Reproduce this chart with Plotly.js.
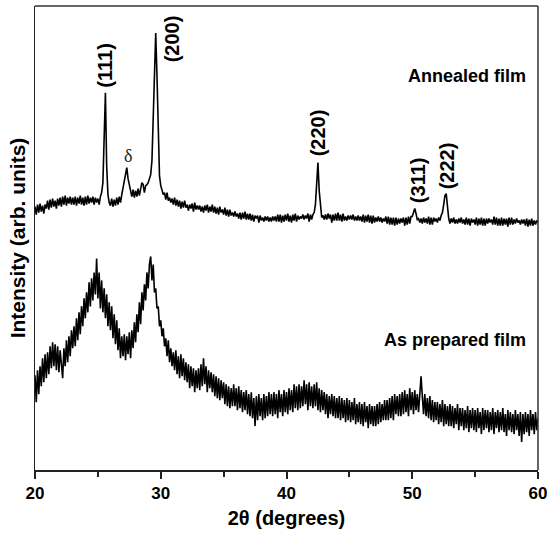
<!DOCTYPE html>
<html>
<head>
<meta charset="utf-8">
<script src="https://cdn.plot.ly/plotly-3.0.1.min.js"></script>
<style>html,body{margin:0;padding:0;background:#fff;}#chart{width:547px;height:533px;}</style>
</head>
<body>
<div id="chart"></div>
<script>
// 2-theta sampling (degrees)
const startAngle = 20;
const stepAngle = 0.1;

// Annealed film intensity (arb. units), 20.0 .. 60.0 step 0.1
const annealedIntensity = [
264,256,266,258,267,259,265,257,266,262,
270,261,271,263,272,264,270,262,272,265,
273,264,274,266,275,265,273,267,274,266,
273,266,274,265,273,267,275,266,273,265,
274,266,275,267,273,268,274,266,273,268,
272,266,274,278,288,340,378,305,276,268,
265,272,264,271,265,273,266,274,268,276,
282,288,294,303,292,284,280,274,281,273,
280,274,282,275,284,288,286,278,285,286,
288,292,296,310,350,405,438,395,330,295,
285,280,276,278,271,278,270,273,268,272,
266,273,265,271,264,270,262,269,263,270,
263,266,260,266,262,267,259,268,261,265,
261,265,259,264,258,265,260,266,258,264,
259,266,258,264,257,263,256,264,258,261,
256,263,255,261,254,261,255,258,254,259,
254,257,252,258,251,258,252,259,251,257,
251,257,250,256,249,255,252,255,248,255,
250,253,249,254,250,254,249,253,249,254,
250,254,249,256,249,256,248,255,249,256,
250,257,249,255,248,256,250,257,249,255,
251,254,252,256,251,255,252,257,249,256,
251,256,258,266,290,308,280,262,253,255,
251,256,251,257,252,256,248,256,250,257,
250,258,250,256,249,257,250,254,250,255,
251,255,251,256,250,254,250,255,250,254,
249,256,248,255,249,256,248,255,247,255,
248,253,249,254,249,253,248,252,249,254,
247,254,246,253,246,253,245,253,246,252,
247,252,248,253,245,253,246,254,247,254,
254,258,262,257,251,252,248,252,247,253,
248,252,247,254,246,253,246,253,249,252,
248,253,250,255,258,266,275,277,262,252,
247,252,248,253,247,251,247,252,248,253,
247,251,246,253,246,252,245,252,248,251,
246,253,245,252,246,253,245,252,245,252,
247,252,248,251,246,254,246,253,245,252,
245,253,245,252,246,252,244,253,246,253,
246,251,247,252,248,250,246,251,247,251,
245,252,244,251,245,252,245,250,246,250,
248
];

// As prepared film intensity (arb. units), 20.0 .. 60.0 step 0.1
const preparedIntensity = [
95,68,100,76,104,84,112,88,116,92,
118,96,124,102,128,104,126,100,124,98,
120,100,92,122,104,130,108,134,114,140,
122,144,124,152,130,158,136,164,144,172,
152,178,158,188,164,192,170,198,176,212,
172,198,162,190,158,182,152,176,144,168,
140,164,132,156,126,150,120,142,112,134,
114,136,110,134,116,138,112,140,122,148,
128,156,138,168,146,178,160,186,170,198,
182,206,214,190,206,178,182,162,164,144,
150,134,142,124,132,114,130,108,122,104,
118,100,120,96,114,92,116,94,112,90,
108,88,106,82,104,84,102,78,100,82,
102,80,106,84,112,86,104,78,100,82,
98,78,96,74,94,72,92,70,90,72,
88,66,86,64,84,62,82,64,86,64,
82,60,84,62,80,58,78,60,80,56,
76,54,78,52,72,44,74,50,76,54,
72,50,76,52,74,54,78,56,76,54,
78,56,76,52,80,58,76,54,80,58,
78,56,82,60,80,58,86,62,84,60,
86,62,84,64,90,66,86,60,88,64,
84,62,86,64,88,60,82,58,80,60,
78,56,76,52,74,56,76,54,74,52,
72,52,74,50,72,52,70,48,72,50,
70,48,68,50,72,46,66,48,68,46,
66,44,68,48,64,42,66,46,64,44,
64,44,66,46,68,48,66,50,70,50,
70,50,72,52,74,50,76,56,74,54,
76,54,78,56,80,58,76,54,82,60,
78,56,80,60,76,58,82,94,74,56,
76,54,72,52,74,50,70,48,68,50,
68,46,66,48,70,44,66,46,64,44,
66,44,64,42,62,46,66,40,62,44,
62,40,60,42,64,38,60,42,62,40,
60,38,62,42,58,36,62,40,60,42,
60,38,58,40,62,36,58,42,60,38,
58,40,62,38,56,34,60,40,58,38,
56,36,60,40,56,34,58,28,56,36,
58,38,56,34,60,40,56,36,58,40,
52
];

// Axis ticks
const xTickValues = [20, 30, 40, 50, 60];
const xTickLabels = ["20", "30", "40", "50", "60"];
const xMinorTickValues = [25, 35, 45, 55];

// Peak labels (Miller indices) and curve labels
const peakLabels = ["(111)", "(200)", "(220)", "(311)", "(222)"];
const deltaLabel = "δ";
const curveLabels = ["Annealed film", "As prepared film"];

const lineStyle = {color: "#000000", width: 1.6};

const traces = [
  {type: "scatter", mode: "lines", name: curveLabels[0],
   x0: startAngle, dx: stepAngle, y: annealedIntensity, line: lineStyle, hoverinfo: "x+y"},
  {type: "scatter", mode: "lines", name: curveLabels[1],
   x0: startAngle, dx: stepAngle, y: preparedIntensity, line: lineStyle, hoverinfo: "x+y"}
];

const boldFont = "'Liberation Sans', Arial, sans-serif";
const peakFont = {family: boldFont, size: 20, color: "#000"};

// label placement (data coordinates)
const peakLabelX = [25.55, 30.85, 42.47, 50.42, 52.74];
const peakLabelY = [405, 432, 338, 290, 305];

const annotations = peakLabels.map((t, i) => ({
  x: peakLabelX[i], y: peakLabelY[i], xref: "x", yref: "y",
  text: "<b>" + t + "</b>", textangle: -90, showarrow: false,
  xanchor: "center", yanchor: "middle", font: peakFont
}));
annotations.push({x: 27.4, y: 315, xref: "x", yref: "y", text: deltaLabel, showarrow: false,
  xanchor: "center", yanchor: "middle", font: {family: "'Liberation Serif', serif", size: 18, color: "#222"}});
annotations.push({x: 59.2, y: 395, xref: "x", yref: "y", text: "<b>" + curveLabels[0] + "</b>", showarrow: false,
  xanchor: "right", yanchor: "middle", font: {family: boldFont, size: 18, color: "#000"}});
annotations.push({x: 59.2, y: 130, xref: "x", yref: "y", text: "<b>" + curveLabels[1] + "</b>", showarrow: false,
  xanchor: "right", yanchor: "middle", font: {family: boldFont, size: 18, color: "#000"}});

const layout = {
  width: 547, height: 533,
  margin: {l: 35, r: 9, t: 6, b: 63, pad: 0},
  paper_bgcolor: "#ffffff", plot_bgcolor: "#ffffff",
  showlegend: false,
  font: {family: boldFont, color: "#000"},
  xaxis: {
    range: [20, 60], tickvals: xTickValues, ticktext: xTickLabels,
    ticks: "outside", ticklen: 7, tickwidth: 2, tickcolor: "#222",
    ticklabeloverflow: "allow",
    minor: {tickvals: xMinorTickValues, ticks: "outside", ticklen: 5, tickwidth: 2, tickcolor: "#222"},
    showline: true, linewidth: 2, linecolor: "#222",
    showgrid: false, zeroline: false,
    tickfont: {family: boldFont, size: 17, color: "#000", weight: "bold"},
    title: {text: "<b>2θ (degrees)</b>", font: {family: boldFont, size: 20, color: "#000"}, standoff: 9}
  },
  yaxis: {
    range: [0, 465], showticklabels: false, ticks: "",
    showline: true, linewidth: 1.5, linecolor: "#222",
    showgrid: false, zeroline: false,
    title: {text: "<b>Intensity (arb. units)</b>", font: {family: boldFont, size: 21, color: "#000"}, standoff: 2}
  },
  shapes: [
    {type: "line", xref: "paper", yref: "paper", x0: 0, x1: 1, y0: 1, y1: 1, line: {color: "#333", width: 1.5}},
    {type: "line", xref: "paper", yref: "paper", x0: 1, x1: 1, y0: 0, y1: 1, line: {color: "#333", width: 1.5}}
  ],
  annotations: annotations
};

Plotly.newPlot("chart", traces, layout, {displayModeBar: false, staticPlot: true});
</script>
</body>
</html>
